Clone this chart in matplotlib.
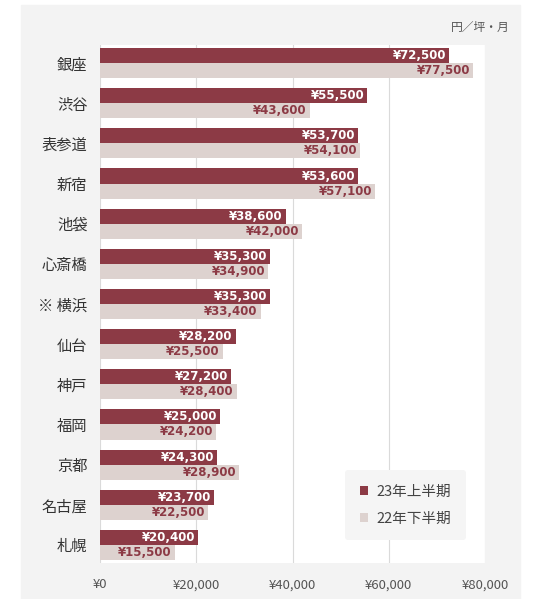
import numpy as np
import matplotlib.pyplot as plt
from matplotlib.patches import Rectangle

plt.rcParams['font.family'] = ['Noto Sans CJK JP', 'DejaVu Sans']

areas = ['銀座', '渋谷', '表参道', '新宿', '池袋', '心斎橋', '※ 横浜',
         '仙台', '神戸', '福岡', '京都', '名古屋', '札幌']
h23 = [72500, 55500, 53700, 53600, 38600, 35300, 35300,
       28200, 27200, 25000, 24300, 23700, 20400]
h22 = [77500, 43600, 54100, 57100, 42000, 34900, 33400,
       25500, 28400, 24200, 28900, 22500, 15500]
ticks = [0, 20000, 40000, 60000, 80000]

red = '#8c3a45'
grey = '#ddd2cf'

fig = plt.figure(figsize=(5.33, 5.99), dpi=100)
fig.patches.append(Rectangle((21 / 533, 0), 499 / 533, 594 / 599,
                             transform=fig.transFigure, color='#f3f3f3', zorder=-10))
ax = fig.add_axes([100 / 533, 1 - 563 / 599, 385 / 533, 518 / 599])
ax.set_facecolor('white')

y = np.arange(len(areas))
bh = 0.375
ax.barh(y - bh / 2, h23, height=bh, color=red, zorder=3)
ax.barh(y + bh / 2, h22, height=bh, color=grey, zorder=3)

for i in range(len(areas)):
    ax.text(h23[i] - 600, y[i] - bh / 2, '¥{:,}'.format(h23[i]), ha='right', va='center',
            color='white', fontsize=8.5, fontweight='bold', zorder=4, family=['DejaVu Sans'])
    ax.text(h22[i] - 600, y[i] + bh / 2, '¥{:,}'.format(h22[i]), ha='right', va='center',
            color=red, fontsize=8.5, fontweight='bold', zorder=4, family=['DejaVu Sans'])

ax.set_xlim(0, 80000)
ax.set_ylim(12.45, -0.45)
ax.set_xticks(ticks)
ax.set_xticklabels(['¥{:,}'.format(t) for t in ticks], color='#555555', fontsize=9.5)
ax.set_yticks(y)
ax.set_yticklabels(areas, fontsize=11, color='#333333')
ax.tick_params(length=0)
ax.tick_params(axis='x', pad=11)
ax.tick_params(axis='y', pad=9)
ax.grid(axis='x', color='#dadada', linewidth=0.8, zorder=1)
for s in ax.spines.values():
    s.set_visible(False)

fig.text(510 / 533, 1 - 27 / 599, '円／坪・月', ha='right', va='center',
         fontsize=8.5, color='#555555')

leg = ax.legend(['23年上半期', '22年下半期'], loc='lower right',
                bbox_to_anchor=(0.97, 0.03), fontsize=10.5, frameon=True,
                handlelength=0.55, handleheight=0.55, handletextpad=0.6,
                labelspacing=0.9, borderpad=1.0)
leg.get_frame().set_facecolor('#f5f5f5')
leg.get_frame().set_edgecolor('none')
leg.get_frame().set_alpha(1)
for t in leg.get_texts():
    t.set_color('#444444')

fig.savefig('out.png', dpi=100)
